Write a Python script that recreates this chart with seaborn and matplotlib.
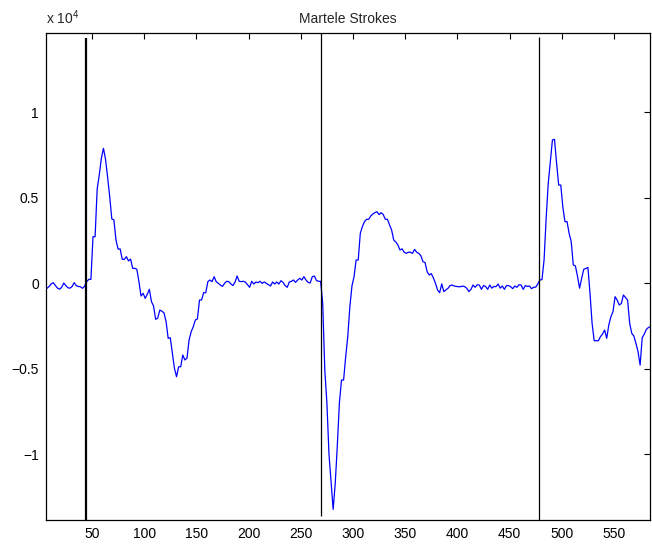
import numpy as np
import pandas as pd
import matplotlib
matplotlib.use("Agg")
import matplotlib.pyplot as plt
import seaborn as sns
from matplotlib.ticker import FuncFormatter

# ---------------- data ----------------
sample_x = np.arange(5, 586, 2)
amplitude = [
    -300, -310, -200, -50, 20, -150, -300, -360, -250, 0,            # 5-23
    -150, -280, -300, -200, 20, -150, -200, -220, -310, -180,        # 25-43
    80, 215, 215, 2710, 2710, 5500, 6320, 7290, 7880, 7230,          # 45-63
    6180, 5050, 3745, 3700, 2515, 1990, 1990, 1385, 1385, 1540,      # 65-83
    1290, 1400, 860, 860, 800, 80, -760, -600, -900, -650,           # 85-103
    -370, -1090, -1345, -2125, -2050, -1580, -1650, -1750, -2260, -3235,  # 105-123
    -3200, -4115, -4990, -5480, -4900, -4900, -4210, -4500, -4400, -3335,  # 125-143
    -2850, -2560, -2165, -2100, -995, -990, -565, -565, 80, 175,     # 145-163
    80, 370, 80, -20, -117, -200, -20, 100, 80, -50,                 # 165-183
    -150, 50, 410, 100, 80, 100, 50, -100, -250, 100,                # 185-203
    -60, 60, 20, 100, -20, 60, -20, -100, -175, 60,                  # 205-223
    -60, 60, -60, 135, 40, -150, -250, 60, 100, 175,                 # 225-243
    40, 175, 275, 175, 370, 175, 40, 0, 370, 410,                    # 245-263
    150, 100, 100, -1190, -5090, -7000, -10000, -11620, -13240, -11720,  # 265-283
    -9480, -7000, -5675, -5675, -4310, -3140, -1385, -175, 370, 1345,    # 285-303
    1345, 2905, 3300, 3590, 3725, 3725, 3920, 4035, 4115, 4170,      # 305-323
    4000, 4115, 4000, 3725, 3725, 3400, 3100, 2515, 2400, 2225,      # 325-343
    1930, 2000, 1800, 1735, 1800, 1800, 1735, 1970, 1800, 1735,      # 345-363
    1600, 1250, 1200, 660, 470, 550, 300, -20, -410, -565,           # 365-383
    -50, -505, -400, -310, -150, -117, -175, -200, -215, -215,       # 385-403
    -180, -215, -310, -500, -370, -117, -250, -100, -117, -370,      # 405-423
    -150, -200, -370, -117, -300, -200, -215, -60, -300, -175,       # 425-443
    -370, -150, -150, -215, -330, -175, -250, -100, -117, -370,      # 445-463
    -150, -200, -175, -330, -250, -240, -60, 175, 200, 1345,         # 465-483
    3785, 5830, 7100, 8365, 8400, 7000, 5730, 5730, 4430, 3590,      # 485-503
    3590, 2905, 2420, 1055, 1000, 400, -300, 275, 800, 850,          # 505-523
    915, -600, -2360, -3375, -3375, -3375, -3140, -2985, -2750, -3235,   # 525-543
    -2455, -1970, -1680, -800, -1000, -1285, -1200, -700, -850, -1000,   # 545-563
    -2360, -2945, -3100, -3530, -4020, -4800, -3200, -2985, -2710, -2600,  # 565-583
    -2555,                                                           # 585
]

stroke_onsets = [44, 269, 478]
onset_tops = [14330, 14620, 14390]
onset_bottoms = [-13860, -13630, -13860]

x_ticks = [50, 100, 150, 200, 250, 300, 350, 400, 450, 500, 550]
y_ticks = [-10000, -5000, 0, 5000, 10000]
title_text = "Martele Strokes"

# ---------------- style ----------------
sns.set_style("white")
plt.rcParams["font.family"] = ["Liberation Sans", "DejaVu Sans"]
plt.rcParams["mathtext.fontset"] = "custom"
plt.rcParams["mathtext.rm"] = "Liberation Sans"
plt.rcParams["mathtext.it"] = "Liberation Sans"

fig = plt.figure(figsize=(6.52, 5.44), dpi=100)
ax = fig.add_axes([0.0701, 0.0441, 0.9269, 0.8952])

df = pd.DataFrame({"x": sample_x, "y": amplitude})
sns.lineplot(data=df, x="x", y="y", ax=ax, color="#0000ff", linewidth=0.9,
             estimator=None, sort=False)

widths = [1.6, 0.9, 0.9]
for xo, yt, yb, w in zip(stroke_onsets, onset_tops, onset_bottoms, widths):
    ax.plot([xo, xo], [yb, yt], color="black", linewidth=w, solid_capstyle="butt")

ax.set_xlim(5.7, 584.5)
ax.set_ylim(-13860, 14620)
ax.set_xticks(x_ticks)
ax.set_yticks(y_ticks)
ax.yaxis.set_major_formatter(FuncFormatter(lambda v, p: ("%g" % (v / 1e4)).replace("-", "\u2212")))
ax.set_xlabel("")
ax.set_ylabel("")

ax.tick_params(axis="both", which="both", direction="in", length=4, width=0.8,
               top=True, right=True, labelsize=10, colors="black", pad=5)
for s in ax.spines.values():
    s.set_visible(True)
    s.set_color("black")
    s.set_linewidth(0.9)

ax.set_title(title_text, fontsize=10, pad=7)
ax.text(0.0, 1.012, r"x 10$^{4}$", transform=ax.transAxes, ha="left", va="bottom",
        fontsize=10)

fig.savefig("out.png", dpi=100, facecolor="white")
